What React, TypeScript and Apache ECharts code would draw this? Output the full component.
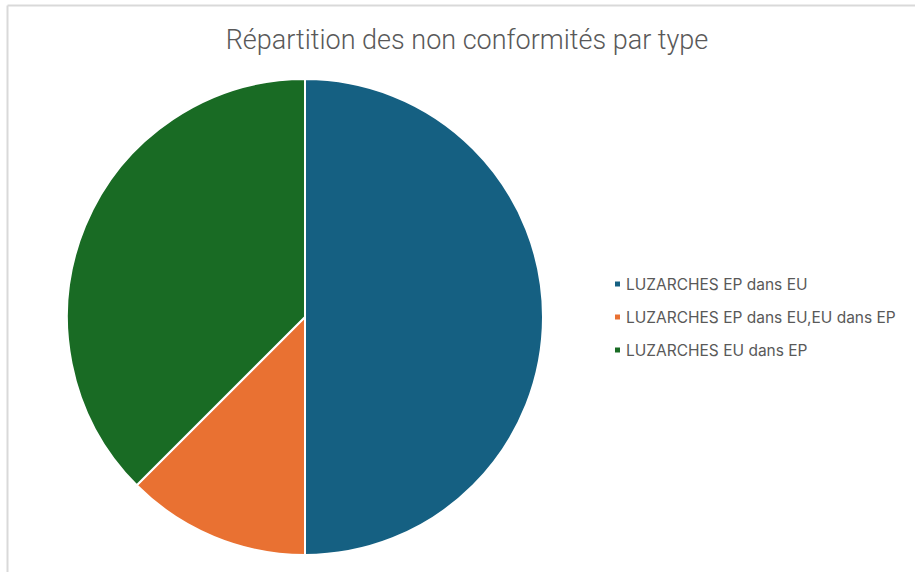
import React, { useEffect, useRef } from "react";
import * as echarts from "echarts";

const categories = [
  "LUZARCHES EP dans EU",
  "LUZARCHES EP dans EU,EU dans EP",
  "LUZARCHES EU dans EP",
];
const values = [4, 1, 3];
const colors = ["#156082", "#E97132", "#196B24"];
const title = "Répartition des non conformités par type";

export default function App() {
  const ref = useRef<HTMLDivElement>(null);
  useEffect(() => {
    if (!ref.current) return;
    const chart = echarts.init(ref.current, undefined, { renderer: "svg" });
    chart.setOption({
      animation: false,
      backgroundColor: "#ffffff",
      title: {
        text: title,
        left: 462,
        textAlign: "center",
        top: 21,
        textStyle: {
          fontFamily: "Roboto",
          fontWeight: 300,
          fontSize: 27,
          color: "#595959",
        },
      },
      legend: {
        orient: "vertical",
        left: 608,
        top: 271,
        icon: "rect",
        itemWidth: 7,
        itemHeight: 7,
        itemGap: 17,
        textStyle: {
          fontFamily: "Inter",
          fontSize: 15.5,
          color: "#595959",
          lineHeight: 16,
          padding: [0, 0, 0, 0],
        },
        data: categories,
      },
      graphic: [
        {
          type: "line",
          shape: { x1: 7.5, y1: 5.5, x2: 7.5, y2: 572 },
          style: { stroke: "#d9d9d9", lineWidth: 2 },
        },
        {
          type: "line",
          shape: { x1: 7.5, y1: 5.5, x2: 915, y2: 5.5 },
          style: { stroke: "#d9d9d9", lineWidth: 2 },
        },
      ],
      series: [
        {
          type: "pie",
          center: [305, 317],
          radius: 238,
          startAngle: 90,
          clockwise: true,
          label: { show: false },
          labelLine: { show: false },
          emphasis: { disabled: true },
          itemStyle: { borderColor: "#ffffff", borderWidth: 2 },
          data: categories.map((name, i) => ({
            name,
            value: values[i],
            itemStyle: { color: colors[i] },
          })),
        },
      ],
    });
    return () => chart.dispose();
  }, []);
  return (
    <div
      ref={ref}
      style={{ position: "absolute", left: 0, top: 0, width: 915, height: 572 }}
    />
  );
}
